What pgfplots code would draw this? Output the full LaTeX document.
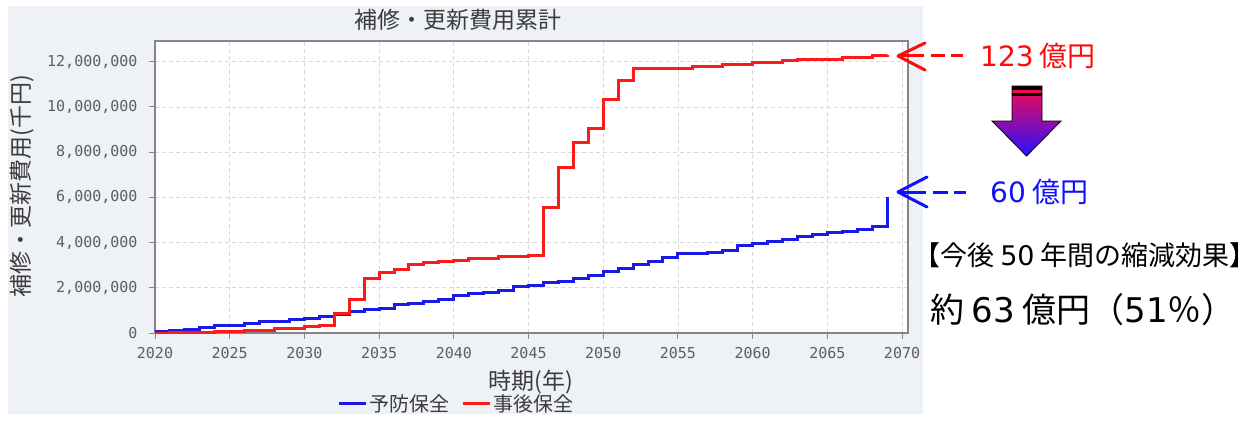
\documentclass[border=0pt]{standalone}
\usepackage{pgfplots}
\pgfplotsset{compat=1.18}
\usepackage{fontspec}
\setmainfont{Noto Sans CJK JP}
\newfontfamily\monofont{DejaVu Sans Mono}
\newfontfamily\digitfont{DejaVu Sans}

\definecolor{panelbg}{HTML}{EEF1F5}
\definecolor{gridc}{HTML}{D9D9D9}
\definecolor{framec}{HTML}{858585}
\definecolor{tickc}{HTML}{5E5E5E}
\definecolor{titlec}{HTML}{3C3C3C}
\definecolor{redline}{HTML}{FF1A1A}
\definecolor{blueline}{HTML}{1A1AE6}
\definecolor{notered}{HTML}{FF0A0A}
\definecolor{noteblue}{HTML}{1010FF}
\definecolor{arrowtop}{HTML}{F50A50}
\definecolor{arrowmid}{HTML}{A010C8}
\definecolor{arrowbot}{HTML}{2A10FF}

% cumulative repair/renewal cost (thousand yen), year-end values
\pgfplotstableread{
year cost
2020 60000
2021 130000
2022 160000
2023 250000
2024 310000
2025 350000
2026 430000
2027 500000
2028 530000
2029 580000
2030 650000
2031 720000
2032 830000
2033 940000
2034 1020000
2035 1090000
2036 1240000
2037 1310000
2038 1390000
2039 1490000
2040 1640000
2041 1730000
2042 1780000
2043 1900000
2044 2050000
2045 2120000
2046 2220000
2047 2300000
2048 2390000
2049 2540000
2050 2710000
2051 2870000
2052 3020000
2053 3180000
2054 3350000
2055 3500000
2056 3530000
2057 3550000
2058 3670000
2059 3850000
2060 3970000
2061 4040000
2062 4120000
2063 4260000
2064 4340000
2065 4440000
2066 4510000
2067 4590000
2068 4730000
2069 6000000
}\preventive

\pgfplotstableread{
year cost
2020 0
2021 10000
2022 20000
2023 40000
2024 60000
2025 80000
2026 130000
2027 130000
2028 210000
2029 220000
2030 270000
2031 310000
2032 870000
2033 1500000
2034 2400000
2035 2670000
2036 2820000
2037 3050000
2038 3120000
2039 3150000
2040 3200000
2041 3280000
2042 3300000
2043 3380000
2044 3400000
2045 3420000
2046 5560000
2047 7330000
2048 8440000
2049 9030000
2050 10310000
2051 11190000
2052 11710000
2053 11710000
2054 11710000
2055 11710000
2056 11800000
2057 11800000
2058 11890000
2059 11890000
2060 11960000
2061 11960000
2062 12050000
2063 12120000
2064 12120000
2065 12120000
2066 12180000
2067 12180000
2068 12270000
2069 12300000
}\corrective

\begin{document}
\begin{tikzpicture}[x=1bp,y=1bp]
\useasboundingbox (0,0) rectangle (1260,423);
\fill[white] (0,0) rectangle (1260,423);
\fill[panelbg] (8,9) rectangle (923,417);

\begin{axis}[
  at={(155bp,90bp)}, anchor=south west,
  scale only axis, width=753bp, height=292bp,
  xmin=2020, xmax=2070.4, ymin=0, ymax=12920000,
  axis background/.style={fill=white},
  axis line style={framec, line width=1.3bp},
  xtick={2020,2025,...,2070},
  xticklabels={2020,2025,2030,2035,2040,2045,2050,2055,2060,2065,2070},
  ytick={0,2000000,4000000,6000000,8000000,10000000,12000000},
  yticklabels={0,{2,000,000},{4,000,000},{6,000,000},{8,000,000},{10,000,000},{12,000,000}},
  scaled y ticks=false,
  tick label style={font=\monofont\fontsize{15bp}{15bp}\selectfont, text=tickc},
  xticklabel style={yshift=-5bp},
  yticklabel style={xshift=-8bp},
  tick align=outside, major tick length=6bp,
  xtick pos=bottom, ytick pos=left,
  tick style={framec, line width=1bp},
  grid=major,
  major grid style={gridc, line width=0.8bp, dash pattern=on 4bp off 3bp},
  title={補修・更新費用累計},
  title style={at={(axis description cs:0.402,1.052)}, anchor=center,
    font=\fontsize{23bp}{23bp}\selectfont, text=titlec},
  xlabel={時期(年)},
  xlabel style={at={(axis description cs:0.499,-0.167)}, anchor=center,
    font=\fontsize{23bp}{23bp}\selectfont, text=titlec},
  ylabel={補修・更新費用(千円)},
  ylabel style={at={(axis description cs:-0.1766,0.503)}, anchor=center,
    font=\fontsize{23bp}{23bp}\selectfont, text=titlec},
  legend style={at={(axis description cs:0.4004,-0.243)}, anchor=center,
    draw=none, fill=none, legend columns=2,
    font=\fontsize{20bp}{20bp}\selectfont, text=titlec,
    /tikz/every even column/.append style={column sep=10bp}},
  legend image code/.code={\draw[#1] (0bp,0bp) -- (27bp,0bp);},
]
\addplot[const plot, blueline, line width=3bp] table[x=year, y=cost] {\preventive};
\addlegendentry{予防保全}
\addplot[const plot, redline, line width=3bp] table[x=year, y=cost] {\corrective};
\addlegendentry{事後保全}
\end{axis}

% pointers to the final totals
\draw[notered, line width=3bp, line cap=round, line join=round] (925,380) -- (898,367) -- (925,353);
\draw[notered, line width=3bp] (900,367) -- (924,367) (931,367) -- (945,367) (951,367) -- (963,367);
\node[anchor=west, text=notered, font=\fontsize{28bp}{28bp}\selectfont, inner sep=0pt] at (980,367) {{\digitfont 123} 億円};

\draw[noteblue, line width=3bp, line cap=round, line join=round] (927,246) -- (898,231) -- (927,216);
\draw[noteblue, line width=3bp] (900,231) -- (926,231) (933,231) -- (948,231) (954,231) -- (966,231);
\node[anchor=west, text=noteblue, font=\fontsize{28bp}{28bp}\selectfont, inner sep=0pt] at (990,231) {{\digitfont 60} 億円};

% reduction arrow
\shade[top color=arrowtop, middle color=arrowmid, bottom color=arrowbot]
  (1012,337) -- (1042,337) -- (1042,302) -- (1061,302) -- (1026.5,267) -- (992,302) -- (1012,302) -- cycle;
\fill[black] (1012,337) rectangle (1042,333.5);
\fill[arrowtop] (1012,333.5) rectangle (1042,330.5);
\fill[black] (1012,330.5) rectangle (1042,327.5);
\draw[black, line width=0.8bp, line join=miter]
  (1012,337) -- (1042,337) -- (1042,302) -- (1061,302) -- (1026.5,267) -- (992,302) -- (1012,302) -- cycle;

\node[anchor=west, font=\fontsize{27bp}{27bp}\selectfont, inner sep=0pt] at (913,168) {【今後 {\digitfont 50} 年間の縮減効果】};
\node[anchor=west, font=\fontsize{34bp}{34bp}\selectfont, inner sep=0pt] at (930,113) {約 {\digitfont 63} 億円（{\digitfont 51}％）};
\end{tikzpicture}
\end{document}
